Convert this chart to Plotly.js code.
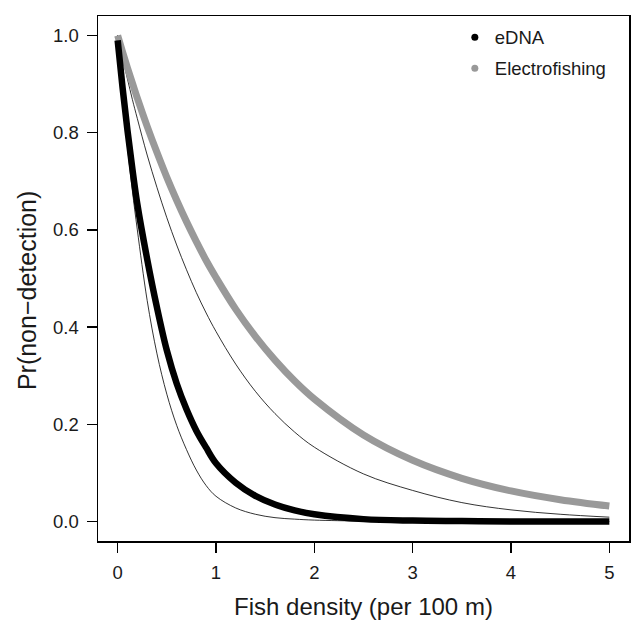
<!DOCTYPE html>
<html>
<head>
<meta charset="utf-8">
<script src="https://cdn.plot.ly/plotly-3.0.1.min.js"></script>
<style>html,body{margin:0;padding:0;background:#fff;}#chart{width:632px;height:625px;}</style>
</head>
<body>
<div id="chart"></div>
<script>
// Fish density (per 100 m)
const density = [0, 0.05, 0.1, 0.15, 0.2, 0.3, 0.4, 0.5, 0.6, 0.7, 0.8, 0.9, 1.0,
                 1.2, 1.4, 1.6, 1.8, 2.0, 2.5, 3.0, 3.5, 4.0, 4.5, 5.0];
// Pr(non-detection), eDNA (posterior mean)
const eDNA = [0.99, 0.892, 0.804, 0.725, 0.653, 0.54, 0.44, 0.352, 0.284, 0.231, 0.187, 0.152, 0.12,
              0.08, 0.053, 0.035, 0.023, 0.015, 0.005, 0.002, 0.001, 0.0, 0.0, 0.0];
// eDNA lower and upper bounds (thin lines)
const eDNALow = [1.0, 0.875, 0.77, 0.68, 0.60, 0.455, 0.345, 0.262, 0.198, 0.148, 0.106, 0.074, 0.052,
                 0.028, 0.015, 0.008, 0.005, 0.003, 0.001, 0.0, 0.0, 0.0, 0.0, 0.0];
const eDNAHigh = [1.0, 0.954, 0.910, 0.868, 0.829, 0.754, 0.687, 0.625, 0.569, 0.518, 0.471, 0.429, 0.391,
                  0.324, 0.268, 0.222, 0.184, 0.153, 0.098, 0.064, 0.039, 0.024, 0.015, 0.009];
// Pr(non-detection), Electrofishing
const electro = [1.0, 0.966, 0.933, 0.902, 0.871, 0.813, 0.759, 0.708, 0.661, 0.617, 0.576, 0.537, 0.502,
                 0.437, 0.381, 0.332, 0.289, 0.252, 0.178, 0.126, 0.089, 0.063, 0.045, 0.032];

const xTicks = [0, 1, 2, 3, 4, 5];
const xTickText = ["0", "1", "2", "3", "4", "5"];
const yTicks = [0, 0.2, 0.4, 0.6, 0.8, 1.0];
const yTickText = ["0.0", "0.2", "0.4", "0.6", "0.8", "1.0"];
const seriesNames = ["eDNA", "Electrofishing"];
const xTitle = "Fish density (per 100 m)";
const yTitle = "Pr(non\u2212detection)";

const FONT = "Liberation Sans, Arial, Helvetica, sans-serif";
const GRAY = "#999999";
const INK = "#1a1a1a";

const traces = [
  {x: density, y: eDNALow, mode: "lines", line: {color: "#000", width: 0.8, shape: "spline"}, showlegend: false, hoverinfo: "skip"},
  {x: density, y: eDNAHigh, mode: "lines", line: {color: "#000", width: 0.8, shape: "spline"}, showlegend: false, hoverinfo: "skip"},
  {x: density, y: electro, mode: "lines", line: {color: GRAY, width: 7, shape: "spline"}, showlegend: false},
  {x: density, y: eDNA, mode: "lines", line: {color: "#000", width: 6.5, shape: "spline"}, showlegend: false},
  {x: [null], y: [null], mode: "markers", name: seriesNames[0], legendgroup: "a", marker: {color: "#000", size: 7}},
  {x: [null], y: [null], mode: "markers", name: seriesNames[1], legendgroup: "b", marker: {color: GRAY, size: 7}}
];

const axisCommon = {
  showgrid: false, zeroline: false, showline: true, mirror: true,
  linecolor: "#000", linewidth: 1.5, ticks: "outside", ticklen: 10, tickwidth: 1.3,
  tickcolor: "#000", tickfont: {family: FONT, size: 18.5, color: INK}
};

const layout = {
  width: 632, height: 625,
  margin: {l: 98, r: 3, t: 16, b: 84, pad: 0},
  paper_bgcolor: "#fff", plot_bgcolor: "#fff",
  font: {family: FONT, color: INK},
  xaxis: Object.assign({}, axisCommon, {
    range: [-0.2, 5.2], tickmode: "array", tickvals: xTicks, ticktext: xTickText,
    ticklabelstandoff: 4,
    title: {text: xTitle, font: {family: FONT, size: 24, color: INK}, standoff: 16}
  }),
  yaxis: Object.assign({}, axisCommon, {
    range: [-0.04, 1.04], tickmode: "array", tickvals: yTicks, ticktext: yTickText,
    ticklabelstandoff: 4
  }),
  annotations: [{
    text: yTitle, textangle: -90, xref: "paper", yref: "paper",
    x: -0.1337, y: 0.476, xanchor: "center", yanchor: "middle", showarrow: false,
    font: {family: FONT, size: 25, color: INK}
  }],
  legend: {
    x: 0.672, y: 0.995, xanchor: "left", yanchor: "top",
    traceorder: "grouped", tracegroupgap: 4,
    bgcolor: "rgba(0,0,0,0)", borderwidth: 0,
    font: {family: FONT, size: 18.5, color: INK}
  },
  showlegend: true
};

Plotly.newPlot("chart", traces, layout, {staticPlot: true, displayModeBar: false});
</script>
</body>
</html>
